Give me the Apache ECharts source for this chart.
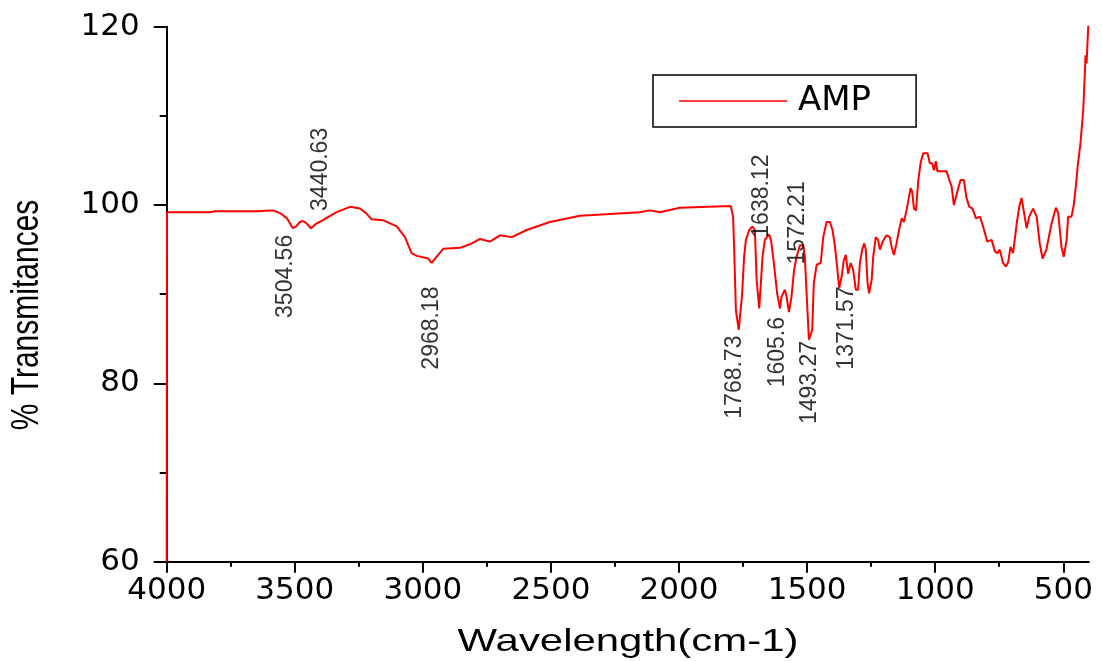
<!DOCTYPE html>
<html>
<head>
<meta charset="utf-8">
<script src="https://cdn.jsdelivr.net/npm/echarts@6/dist/echarts.min.js"></script>
<style>html,body{margin:0;padding:0;background:#fff}#c{width:1102px;height:661px}</style>
</head>
<body>
<div id="c"></div>
<script>
// ---- data ----
const seriesName = 'AMP';
const wavenumber = [4000, 3999, 3831, 3811, 3714, 3644, 3616, 3585, 3558, 3530, 3508, 3495, 3480, 3468, 3456, 3437, 3417, 3390, 3337, 3284, 3245, 3222, 3200, 3156, 3102, 3070, 3044, 3024, 2979, 2966, 2949, 2920, 2855, 2816, 2777, 2738, 2699, 2653, 2595, 2504, 2387, 2270, 2153, 2114, 2075, 1997, 1798, 1789, 1785, 1778, 1767, 1754, 1746, 1739, 1726, 1713, 1704, 1697, 1687, 1680, 1674, 1665, 1649, 1641, 1630, 1617, 1606, 1600, 1587, 1580, 1571, 1561, 1551, 1541, 1528, 1515, 1509, 1502, 1493, 1489, 1480, 1474, 1463, 1447, 1437, 1424, 1411, 1401, 1392, 1383, 1375, 1365, 1357, 1349, 1340, 1330, 1320, 1310, 1301, 1294, 1285, 1277, 1271, 1264, 1258, 1248, 1242, 1232, 1223, 1216, 1205, 1190, 1177, 1170, 1161, 1151, 1141, 1131, 1122, 1112, 1103, 1096, 1090, 1083, 1075, 1066, 1057, 1047, 1030, 1021, 1012, 1005, 997, 992, 956, 945, 936, 927, 919, 910, 901, 888, 878, 867, 854, 841, 826, 813, 797, 780, 767, 757, 748, 735, 724, 715, 706, 696, 682, 672, 663, 657, 643, 633, 618, 604, 592, 581, 566, 546, 529, 520, 507, 498, 487, 481, 468, 459, 451, 444, 433, 422, 413, 409, 403, 400];
const transmittance = [60, 99.2, 99.2, 99.3, 99.3, 99.3, 99.35, 99.4, 99.1, 98.5, 97.4, 97.6, 98.1, 98.2, 98.0, 97.4, 97.9, 98.3, 99.2, 99.8, 99.6, 99.1, 98.4, 98.3, 97.6, 96.4, 94.6, 94.3, 94.0, 93.5, 94.1, 95.1, 95.2, 95.6, 96.2, 95.9, 96.6, 96.4, 97.2, 98.1, 98.8, 99.0, 99.2, 99.4, 99.2, 99.7, 99.9, 98.7, 95.3, 88.2, 86.0, 89.9, 94.2, 96.1, 97.2, 97.6, 97.2, 91.6, 88.4, 88.6, 94.2, 96.1, 96.7, 96.1, 93.5, 90.1, 88.4, 89.7, 90.5, 89.7, 88.0, 89.7, 92.7, 94.2, 95.5, 95.5, 94.2, 90.1, 84.9, 84.7, 86.0, 91.2, 93.3, 93.5, 96.4, 98.1, 98.1, 97.2, 95.5, 93.1, 90.7, 92.0, 93.8, 94.4, 92.3, 93.5, 92.7, 90.5, 90.5, 93.5, 95.0, 95.7, 95.0, 91.2, 90.1, 91.6, 94.2, 96.4, 96.1, 95.0, 95.9, 96.6, 96.4, 95.3, 94.4, 95.7, 97.2, 98.5, 98.1, 99.4, 100.8, 101.9, 101.5, 99.6, 99.4, 102.8, 104.7, 105.8, 105.8, 104.7, 104.7, 103.9, 104.9, 103.8, 103.8, 102.8, 102.1, 100.0, 100.9, 101.9, 102.8, 102.8, 100.8, 99.8, 99.6, 98.5, 98.7, 97.6, 95.9, 96.1, 94.8, 94.6, 95.0, 93.5, 93.1, 93.6, 95.3, 94.6, 97.9, 99.8, 100.8, 99.8, 97.4, 98.7, 99.6, 98.7, 95.7, 94.0, 95.0, 97.9, 99.7, 99.1, 95.3, 94.2, 96.1, 98.7, 98.7, 100.0, 102.1, 104.3, 106.9, 110.7, 116.8, 115.9, 119.8, 121];

const peakLabels = ['3504.56', '3440.63', '2968.18', '1768.73', '1638.12', '1605.6', '1572.21', '1493.27', '1371.57'];
const peakLabelWavenumber = [3534, 3398, 2965, 1782, 1677, 1614, 1536, 1489, 1345];
const peakLabelLevel = [92.0, 104.0, 86.2, 80.7, 101.0, 83.5, 98.0, 80.1, 86.2];

const xTickValues = [4000, 3500, 3000, 2500, 2000, 1500, 1000, 500];
const xMinorTickValues = [3750, 3250, 2750, 2250, 1750, 1250, 750];
const xTitle = 'Wavelength(cm-1)';
const yTitle = '% Transmitances';

// ---- chart ----
const chart = echarts.init(document.getElementById('c'), null, {renderer: 'canvas'});
const lineData = wavenumber.map((w, i) => [w, transmittance[i]]);
const labelData = peakLabels.map((t, i) => [peakLabelWavenumber[i], peakLabelLevel[i], t]);

const gridBox = {left: 166.7, top: 26.7, right: 13.1, bottom: 99.3, containLabel: false, outerBoundsMode: 'none'};
const axisCommon = {type: 'value', min: 400, max: 4000, inverse: true, position: 'bottom', splitLine: {show: false}};

chart.setOption({
  backgroundColor: '#fff',
  animation: false,
  grid: [Object.assign({}, gridBox), Object.assign({}, gridBox)],
  legend: {
    data: [{name: seriesName, icon: 'rect'}],
    left: 653, top: 75,
    itemWidth: 108, itemHeight: 1.5,
    padding: [9, 45, 9, 26],
    borderColor: '#000', borderWidth: 1.5,
    textStyle: {fontFamily: 'DejaVu Sans', fontSize: 34, color: '#000', padding: [0, 0, 0, 6]}
  },
  xAxis: [
    Object.assign({}, axisCommon, {
      gridIndex: 0,
      axisLine: {show: true, lineStyle: {color: '#000', width: 2}},
      axisTick: {show: true, customValues: xTickValues, length: 11, lineStyle: {color: '#000', width: 2}},
      axisLabel: {customValues: xTickValues, margin: 14, fontFamily: 'DejaVu Sans', fontSize: 31, color: '#000',
                  formatter: v => String(v)}
    }),
    Object.assign({}, axisCommon, {
      gridIndex: 1,
      axisLine: {show: false},
      axisTick: {show: true, customValues: xMinorTickValues, length: 5, lineStyle: {color: '#000', width: 2}},
      axisLabel: {show: false}
    })
  ],
  yAxis: [
    {
      gridIndex: 0,
      type: 'value', min: 60, max: 120, interval: 20,
      axisLine: {show: true, lineStyle: {color: '#000', width: 2}},
      axisTick: {show: true, length: 13, lineStyle: {color: '#000', width: 2}},
      minorTick: {show: true, splitNumber: 2, length: 7, lineStyle: {color: '#000', width: 2}},
      axisLabel: {margin: 27, fontFamily: 'DejaVu Sans', fontSize: 31, color: '#000'},
      splitLine: {show: false}
    },
    {
      gridIndex: 1,
      type: 'value', min: 60, max: 120, interval: 20,
      axisLine: {show: false}, axisTick: {show: false}, axisLabel: {show: false}, splitLine: {show: false}
    }
  ],
  graphic: [
    {type: 'text', x: 27.5, y: 315, rotation: Math.PI / 2, scaleY: 1.31,
     style: {text: yTitle, fontFamily: 'Liberation Sans', fontSize: 30, fill: '#000', align: 'center', verticalAlign: 'middle'}},
    {type: 'text', x: 628, y: 642, scaleX: 1.31,
     style: {text: xTitle, fontFamily: 'Liberation Sans', fontSize: 32, fill: '#000', align: 'center', verticalAlign: 'middle'}}
  ],
  series: [
    {
      name: seriesName, type: 'line', xAxisIndex: 0, yAxisIndex: 0, data: lineData, showSymbol: false, symbol: 'none',
      lineStyle: {color: '#ff0000', width: 2}, itemStyle: {color: '#ff0000'}, clip: true, z: 3
    },
    {
      name: 'peaks', type: 'scatter', xAxisIndex: 0, yAxisIndex: 0, data: labelData, symbolSize: 0, silent: true, z: 4,
      label: {show: true, position: 'inside', rotate: 90, formatter: p => p.data[2],
              fontFamily: 'Liberation Sans', fontSize: 23, color: '#000'}
    }
  ]
});
</script>
</body>
</html>
